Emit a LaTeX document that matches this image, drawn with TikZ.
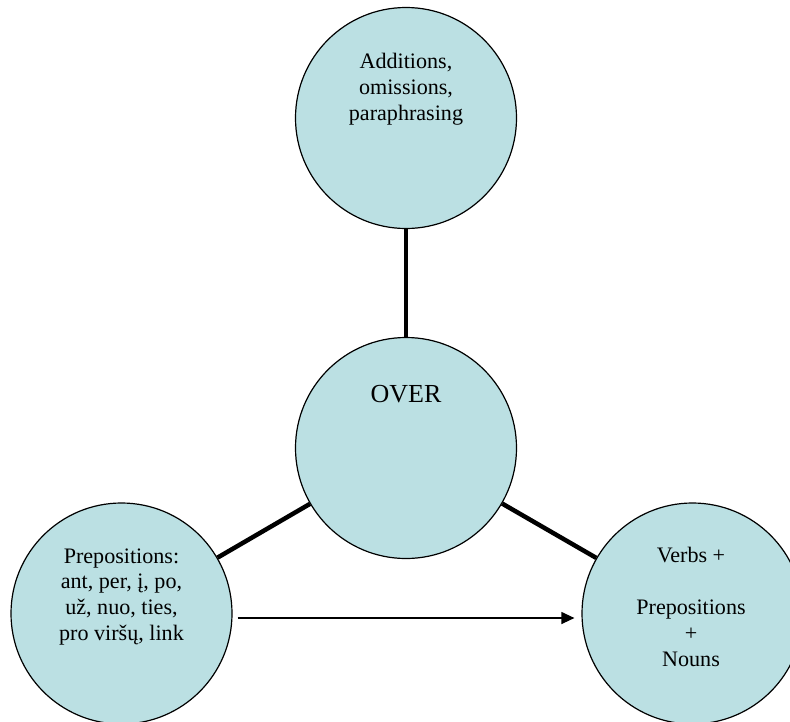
\documentclass[tikz,border=0pt]{standalone}
\usepackage{fontspec}
\setmainfont{Liberation Serif}
\usetikzlibrary{arrows.meta,backgrounds}
\definecolor{bub}{RGB}{187,224,227}
\begin{document}
\begin{tikzpicture}[x=1pt,y=-1pt,
  bubble/.style={circle,draw=black,line width=1.2pt,fill=bub,minimum size=221pt,inner sep=0pt},
  txt/.style={font=\fontsize{22.1}{25.8}\selectfont,align=center,inner sep=0pt,anchor=base},
  bigtxt/.style={font=\fontsize{26}{30}\selectfont,inner sep=0pt,anchor=base},
  link/.style={line width=4.5pt},
  arr/.style={line width=1.2pt,-{Triangle[length=13pt,width=12pt]}}]
\useasboundingbox (0,0) rectangle (790,721);
\clip (0,0) rectangle (790,721);
\node[bubble] (top) at (406,118) {};
\node[bubble] (over) at (406,448) {};
\node[bubble] (left) at (121.5,613.5) {};
\node[bubble] (right) at (692.5,613.5) {};
\begin{scope}[on background layer]
  \draw[link] (top) -- (over);
  \draw[link] (over) -- (left);
  \draw[link] (over) -- (right);
\end{scope}
\draw[arr] ([shift={(5,4.5)}]left.east) -- ([shift={(-7,4.5)}]right.west);
\node[txt] (ttop) at (406,120.5) {Additions,\\omissions,\\paraphrasing};
\node[bigtxt] (tover) at (406,402) {OVER};
\node[txt] (tleft) at (121.5,640.5) {Prepositions:\\ant, per, į, po,\\už, nuo, ties,\\pro viršų, link};
\node[txt] (tright) at (691,666) {Verbs +\\[25.8pt]Prepositions\\+\\Nouns};
\end{tikzpicture}
\end{document}
